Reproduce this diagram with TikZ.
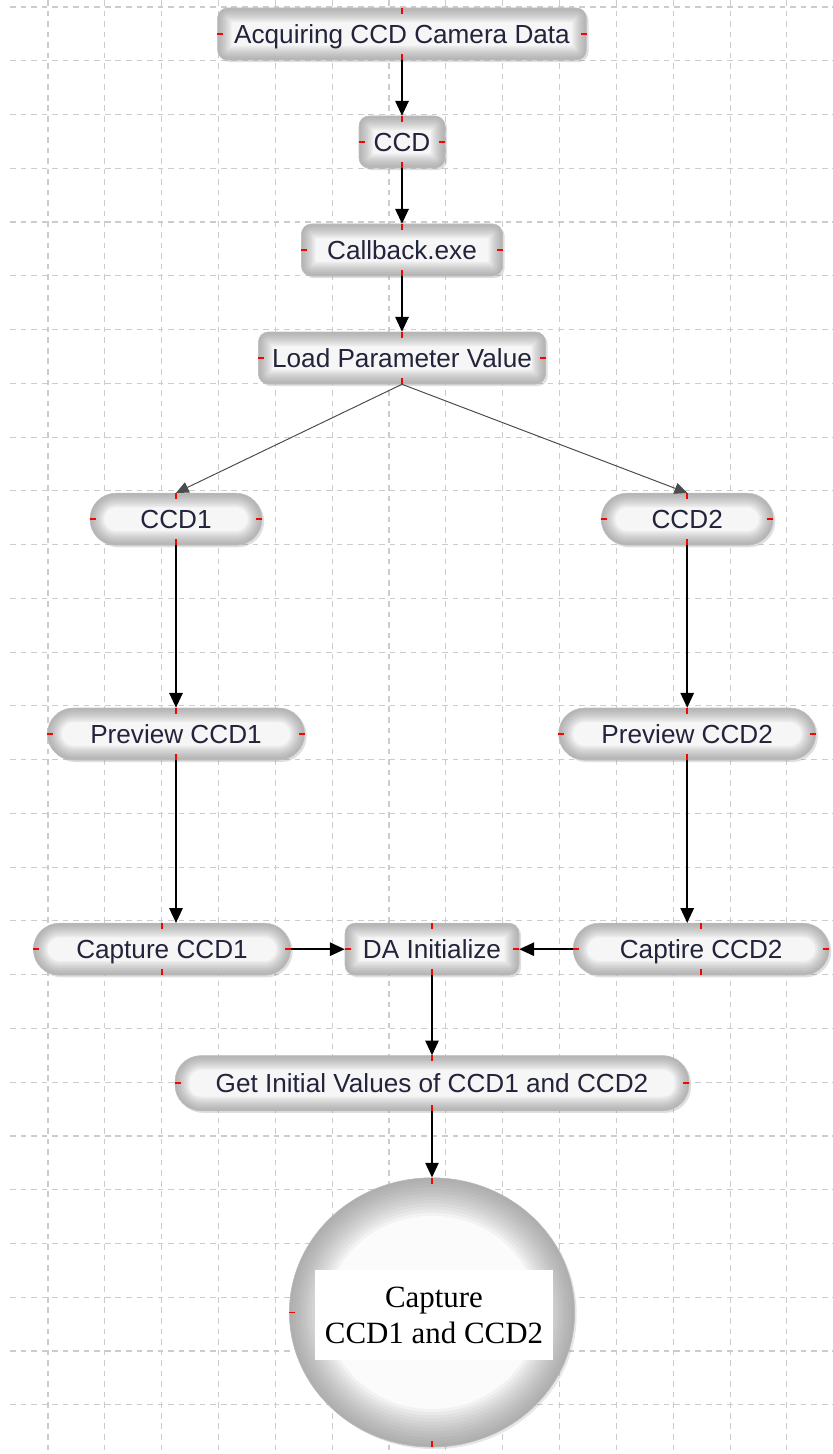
\documentclass[tikz,border=0pt]{standalone}
\usepackage{fontspec}
\setmainfont{Liberation Sans}
\newfontfamily\capfont{Liberation Serif}
\usetikzlibrary{arrows.meta,shadows,shapes.geometric}
\definecolor{ink}{RGB}{35,35,60}

\begin{document}
\begin{tikzpicture}[
  every node/.style={font=\fontsize{18.6}{22}\selectfont, text=ink, inner sep=0pt},
  glow/.style={path picture={
    \foreach \w in {1,...,8}
      \draw[gray, opacity=0.09, line width=\w*2.5pt, rounded corners=#1]
        (path picture bounding box.south west) rectangle (path picture bounding box.north east);
  }},
  ballglow/.style={path picture={
    \foreach \w in {1,...,12}
      \draw[gray, opacity=0.07, line width=\w*4.5pt]
        (path picture bounding box.center) ellipse [x radius=3.565cm, y radius=3.365cm];
  }},
  box/.style={draw=gray!50, line width=0.4pt, fill=gray!7, rounded corners=0.25cm, glow=0.25cm,
    minimum height=1.3cm, text height=13.3pt, text depth=0pt,
    drop shadow={shadow xshift=1.5pt, shadow yshift=-1.5pt, opacity=0.25}},
  pill/.style={box, rounded corners=0.65cm, glow=0.65cm},
  arr/.style={line width=1.1pt, -{Triangle[length=10.5pt,width=9.5pt]}},
  branch/.style={line width=0.7pt, draw=black!70, -{Triangle[length=9pt,width=8pt]}},
  tick/.style={red, line width=1.1pt},
  gridline/.style={gray!40, line width=0.8pt, dash pattern=on 4pt off 3.5pt}
]
\useasboundingbox (0,0) rectangle (20.825,-36.35);

% --- dashed background grid ---
\foreach \k in {0,...,13}
  \draw[gridline] ({1.2+1.421*\k},0) -- ({1.2+1.421*\k},-36.35);
\foreach \k in {0,...,26}
  \draw[gridline] (0.25,{-0.175-1.344*\k}) -- (20.825,{-0.175-1.344*\k});

% --- top chain ---
\node[box, minimum width=9.22cm] (acq) at (10.05,-0.85) {Acquiring CCD Camera Data};
\node[box, minimum width=2.15cm] (ccd) at (10.05,-3.55) {CCD};
\node[box, minimum width=5.03cm] (cb) at (10.05,-6.25) {Callback.exe};
\node[box, minimum width=7.18cm] (load) at (10.05,-8.95) {Load Parameter Value};

% --- two camera branches ---
\node[pill, minimum width=4.3cm] (ccd1) at (4.4,-12.98) {CCD1};
\node[pill, minimum width=4.3cm] (ccd2) at (17.18,-12.98) {CCD2};
\node[pill, minimum width=6.43cm] (prev1) at (4.4,-18.35) {Preview CCD1};
\node[pill, minimum width=6.43cm] (prev2) at (17.18,-18.35) {Preview CCD2};
\node[pill, minimum width=6.43cm] (cap1) at (4.05,-23.73) {Capture CCD1};
\node[box, minimum width=4.35cm] (da) at (10.8,-23.73) {DA Initialize};
\node[pill, minimum width=6.4cm] (cap2) at (17.53,-23.73) {Captire CCD2};

% --- bottom ---
\node[pill, minimum width=12.85cm, minimum height=1.38cm] (get) at (10.8,-27.08) {Get Initial Values of CCD1 and CCD2};
\node[ellipse, minimum width=7.13cm, minimum height=6.73cm, fill=gray!3, draw=gray!55, ballglow,
  drop shadow={shadow xshift=1.5pt, shadow yshift=-1.5pt, opacity=0.2}] (circ) at (10.8,-32.81) {};
\node[fill=white, minimum width=5.95cm, minimum height=2.25cm, align=center, text=black,
  font=\capfont\fontsize{22}{26}\selectfont] (captxt) at (10.85,-32.88) {Capture\\CCD1 and CCD2};

% --- connectors ---
\draw[arr] (acq) -- (ccd);
\draw[arr] (ccd) -- (cb);
\draw[arr] (cb) -- (load);
\draw[branch] (load.south) -- (ccd1.north);
\draw[branch] (load.south) -- (ccd2.north);
\draw[arr] (ccd1) -- (prev1);
\draw[arr] (ccd2) -- (prev2);
\draw[arr] (prev1) -- (prev1 |- cap1.north);
\draw[arr] (prev2) -- (prev2 |- cap2.north);
\draw[arr] (cap1) -- (da);
\draw[arr] (cap2) -- (da);
\draw[arr] (da) -- (get);
\draw[arr] (get) -- (circ);

% --- red connection marks ---
\foreach \n in {acq,ccd,cb,load,ccd1,ccd2,prev1,prev2,cap1,da,cap2,get} {
  \draw[tick] (\n.north) -- ++(0,-0.15);
  \draw[tick] (\n.south) -- ++(0,0.15);
  \draw[tick] (\n.west) -- ++(0.15,0);
  \draw[tick] (\n.east) -- ++(-0.15,0);
}
\draw[tick] (circ.north) -- ++(0,-0.15);
\draw[tick] (circ.south) -- ++(0,0.15);
\draw[tick] (circ.west) -- ++(0.15,0);

\end{tikzpicture}
\end{document}
